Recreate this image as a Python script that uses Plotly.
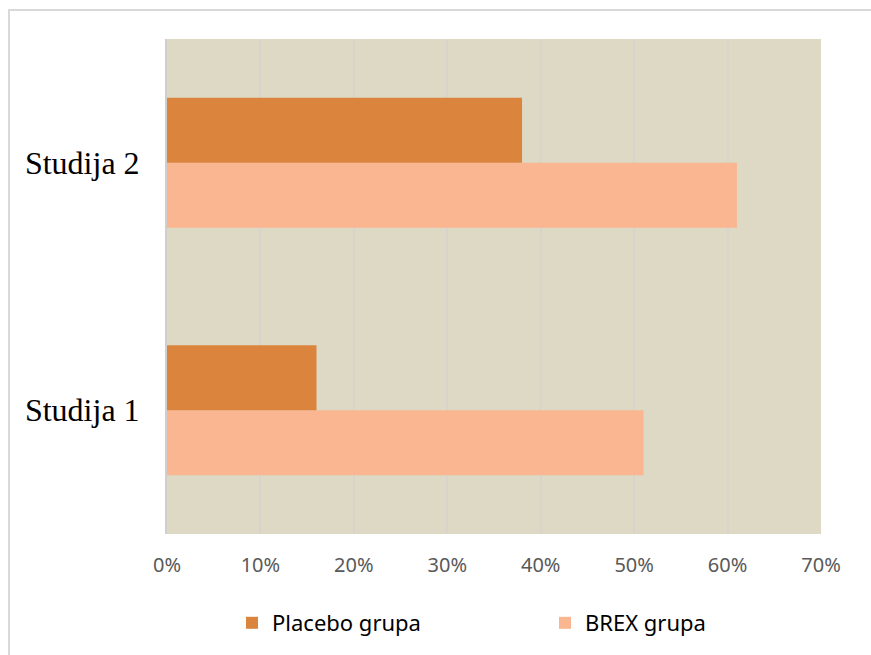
import plotly.graph_objects as go

categories = ["Studija 1", "Studija 2"]
placebo = [0.16, 0.38]
brex = [0.51, 0.61]
x_ticks = [0, 0.1, 0.2, 0.3, 0.4, 0.5, 0.6, 0.7]
x_tick_labels = ["0%", "10%", "20%", "30%", "40%", "50%", "60%", "70%"]

W, H = 871, 655
ml, mr, mt, mb = 167, 50, 39, 120
pw, ph = W - ml - mr, H - mt - mb

fig = go.Figure()
fig.add_trace(go.Bar(y=categories, x=brex, orientation="h", name="BREX grupa",
                     marker=dict(color="#F9B690", line=dict(width=0)), legend="legend2"))
fig.add_trace(go.Bar(y=categories, x=placebo, orientation="h", name="Placebo grupa",
                     marker=dict(color="#DB843D", line=dict(width=0)), legend="legend"))

def px_x(px):
    return (px - ml) / pw

def px_y(py):
    return (H - mb - py) / ph

fig.add_shape(type="rect", xref="paper", yref="paper",
              x0=px_x(9), x1=px_x(W + 20), y0=px_y(H + 20), y1=px_y(10),
              line=dict(color="#D9D9D9", width=2), fillcolor="rgba(0,0,0,0)", layer="below")

legend_font = dict(family="Noto Sans", size=22, color="#000000")

fig.update_layout(
    width=W, height=H,
    margin=dict(l=ml, r=mr, t=mt, b=mb),
    paper_bgcolor="white",
    plot_bgcolor="#DDD9C4",
    barmode="group",
    bargap=0.475,
    bargroupgap=0,
    showlegend=True,
    legend=dict(orientation="h", x=px_x(232), xanchor="left", y=px_y(623), yanchor="middle",
                font=legend_font, itemwidth=30, bgcolor="rgba(0,0,0,0)"),
    legend2=dict(orientation="h", x=px_x(545), xanchor="left", y=px_y(623), yanchor="middle",
                 font=legend_font, itemwidth=30, bgcolor="rgba(0,0,0,0)"),
    xaxis=dict(range=[0, 0.7], tickvals=x_ticks, ticktext=x_tick_labels,
               showgrid=True, gridcolor="#D6D4CC", gridwidth=1.5, zeroline=False,
               showline=False, ticks="", ticklabelstandoff=17,
               tickfont=dict(family="Noto Sans", size=20, color="#595959"),
               fixedrange=True),
    yaxis=dict(showgrid=False, zeroline=False, showline=True, linecolor="#D0CFCB", linewidth=2,
               ticks="", ticklabelstandoff=19,
               tickfont=dict(family="Liberation Serif", size=32, color="#000000"),
               fixedrange=True),
)

fig.write_html("out.html", config={"displayModeBar": False},
               post_script="document.body.style.margin='0';")
